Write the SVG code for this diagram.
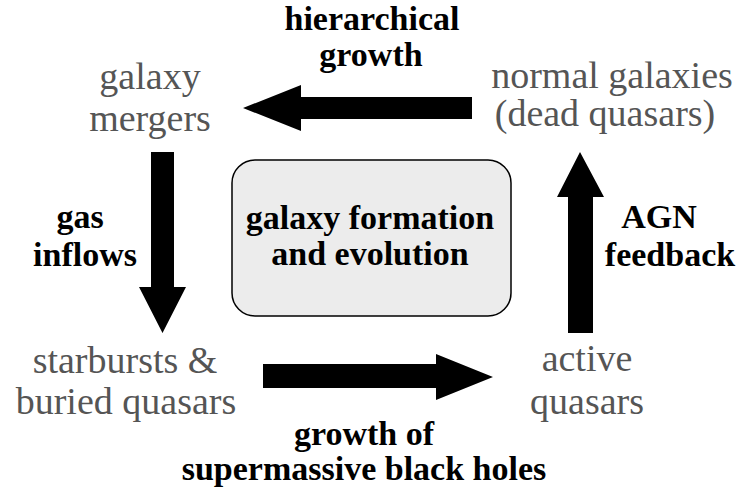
<svg xmlns="http://www.w3.org/2000/svg" width="738" height="494" viewBox="0 0 738 494">
<style>
text{font-family:'Liberation Serif','DejaVu Serif',serif}
.n{font-size:38px;fill:#555;text-anchor:middle}
.l{font-size:34px;font-weight:bold;fill:#000;text-anchor:middle}
.a{fill:#000;stroke:none}
</style>
<rect width="738" height="494" fill="#fff"/>
<g id="center">
<rect x="232" y="160" width="279" height="156" rx="23" ry="23" fill="#ececec" stroke="#000" stroke-width="1.5"/>
<text class="l" x="370" y="229">galaxy formation</text>
<text class="l" x="370" y="265">and evolution</text>
</g>
<g id="galaxy-mergers">
<text class="n" x="150" y="89">galaxy</text>
<text class="n" x="150" y="131">mergers</text>
</g>
<g id="normal-galaxies">
<text class="n" x="612" y="88">normal galaxies</text>
<text class="n" x="605" y="126">(dead quasars)</text>
</g>
<g id="starbursts">
<text class="n" x="125" y="373">starbursts &amp;</text>
<text class="n" x="126" y="414">buried quasars</text>
</g>
<g id="active-quasars">
<text class="n" x="587" y="371">active</text>
<text class="n" x="587" y="414">quasars</text>
</g>
<g id="connectors">
<polygon class="a" points="472,97 301,97 301,85 243,108 301,131 301,119 472,119"/>
<polygon class="a" points="151,152 174,152 174,287 186,287 162.5,333 139,287 151,287"/>
<polygon class="a" points="263,364 436,364 436,354 493,377 436,400 436,388 263,388"/>
<polygon class="a" points="568,333 568,197 557,197 580,152 604,197 593,197 593,333"/>
<text class="l" x="372" y="30">hierarchical</text>
<text class="l" x="371" y="66">growth</text>
<text class="l" x="80" y="228">gas</text>
<text class="l" x="85" y="266">inflows</text>
<text class="l" x="659" y="228">AGN</text>
<text class="l" x="670" y="266">feedback</text>
<text class="l" x="364" y="445">growth of</text>
<text class="l" x="364" y="480">supermassive black holes</text>
</g>
</svg>
